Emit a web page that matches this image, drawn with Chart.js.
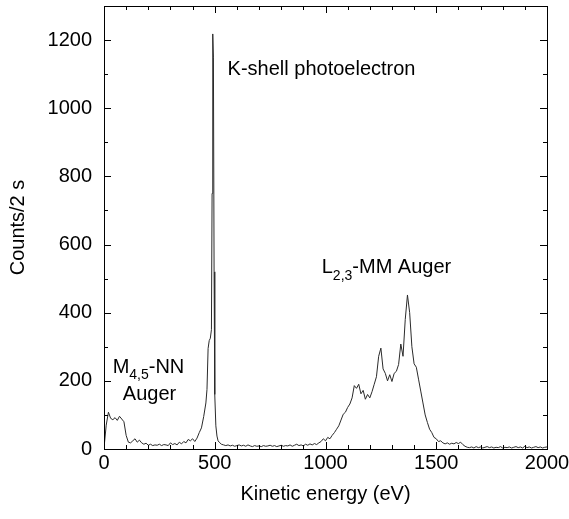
<!DOCTYPE html>
<html>
<head>
<meta charset="utf-8">
<script src="https://cdn.jsdelivr.net/npm/chart.js@4/dist/chart.umd.min.js"></script>
<style>
  html, body { margin: 0; padding: 0; background: #fff; }
  canvas { display: block; }
</style>
</head>
<body>
<canvas id="spec" width="569" height="519"></canvas>
<script>
// Kinetic energy (eV) and counts per 2 s
const ENERGY = [
  0, 10, 20, 30, 40, 50, 60, 70, 80, 90, 100, 110, 120, 130, 140, 150, 160, 170, 180, 190,
  200, 210, 220, 230, 240, 250, 260, 270, 280, 290, 300, 310, 320, 330, 340, 350, 360, 370, 380, 390,
  400, 410, 420, 430, 440, 450, 460, 465, 470, 475, 480, 485, 488, 491, 494, 497, 500, 505, 510, 515,
  520, 530, 540, 550, 560, 570, 580, 590, 600, 610, 620, 630, 640, 650, 660, 670, 680, 690, 700, 710,
  720, 730, 740, 750, 760, 770, 780, 790, 800, 810, 820, 830, 840, 850, 860, 870, 880, 890, 900, 910,
  920, 930, 940, 950, 960, 970, 980, 990, 1000, 1010, 1020, 1030, 1040, 1050, 1060, 1070, 1080, 1090, 1100, 1110,
  1120, 1130, 1140, 1150, 1160, 1170, 1180, 1190, 1200, 1210, 1220, 1230, 1240, 1250, 1260, 1270, 1280, 1290, 1300, 1310,
  1320, 1330, 1340, 1350, 1360, 1370, 1380, 1390, 1400, 1410, 1420, 1430, 1440, 1450, 1460, 1470, 1480, 1490, 1500, 1510,
  1520, 1530, 1540, 1550, 1560, 1570, 1580, 1590, 1600, 1610, 1620, 1630, 1640, 1650, 1660, 1670, 1680, 1690, 1700, 1710,
  1720, 1730, 1740, 1750, 1760, 1770, 1780, 1790, 1800, 1810, 1820, 1830, 1840, 1850, 1860, 1870, 1880, 1890, 1900, 1910,
  1920, 1930, 1940, 1950, 1960, 1970, 1980, 1990, 2000
];
const COUNTS = [
  3, 70, 108, 90, 86, 92, 84, 96, 88, 80, 40, 20, 18, 24, 30, 20, 26, 18, 14, 17,
  11, 14, 10, 12, 11, 14, 10, 13, 12, 10, 18, 13, 16, 12, 20, 15, 22, 18, 28, 24,
  30, 22, 32, 48, 62, 95, 135, 175, 295, 318, 325, 350, 750, 1218, 1150, 520, 160, 68, 38, 24,
  20, 14, 12, 10, 12, 9, 11, 8, 10, 12, 9, 11, 8, 12, 9, 7, 10, 8, 9, 7,
  10, 8, 9, 11, 8, 10, 7, 9, 11, 8, 10, 9, 12, 8, 11, 14, 10, 12, 9, 14,
  11, 15, 12, 16, 13, 18, 22, 30, 24, 34, 30, 40, 48, 58, 68, 85, 102, 108, 122, 132,
  150, 186, 178, 190, 162, 172, 146, 160, 150, 168, 190, 212, 272, 296, 235, 222, 200, 218, 198, 222,
  228, 248, 308, 272, 380, 452, 400, 300, 250, 240, 205, 170, 135, 100, 78, 58, 48, 34, 30, 22,
  24, 18, 15, 18, 14, 17, 15, 19, 16, 20, 13, 8, 5, 4, 6, 3, 7, 4, 6, 3,
  5, 7, 4, 6, 3, 5, 4, 7, 3, 5, 4, 6, 3, 5, 7, 4, 6, 3, 8, 4,
  6, 3, 5, 7, 4, 6, 3, 5, 6
];

const X_MAJOR = [0, 500, 1000, 1500, 2000];
const Y_MAJOR = [0, 200, 400, 600, 800, 1000, 1200];
const X_MINOR_STEP = 100;
const Y_MINOR_STEP = 100;

// peak labels, anchored in data units
const LABELS = [
  { x: 558, y: 1115, parts: [['K-shell photoelectron']] },
  { x: 983, y: 532, parts: [['L'], ['2,3', 'sub'], ['-MM Auger']] },
  { x: 39, y: 240, parts: [['M'], ['4,5', 'sub'], ['-NN']] },
  { x: 85, y: 161, parts: [['Auger']] }
];

const FONT = '"Liberation Sans", Arial, Helvetica, sans-serif';

const framePlugin = {
  id: 'frame',
  afterDatasetsDraw(chart) {
    const { ctx, chartArea: a, scales: { x, y } } = chart;
    ctx.save();
    ctx.strokeStyle = '#000';
    ctx.lineWidth = 1;
    ctx.strokeRect(Math.round(a.left) + 0.5, Math.round(a.top) + 0.5,
      Math.round(a.right - a.left), Math.round(a.bottom - a.top));

    ctx.beginPath();
    for (let v = x.min; v <= x.max; v += X_MINOR_STEP) {
      const px = Math.round(x.getPixelForValue(v)) + 0.5;
      const len = X_MAJOR.includes(v) ? 7 : 4;
      ctx.moveTo(px, a.bottom); ctx.lineTo(px, a.bottom - len);
      ctx.moveTo(px, a.top); ctx.lineTo(px, a.top + len);
    }
    for (let v = y.min; v <= y.max; v += Y_MINOR_STEP) {
      const py = Math.round(y.getPixelForValue(v)) + 0.5;
      const len = Y_MAJOR.includes(v) ? 7 : 4;
      ctx.moveTo(a.left, py); ctx.lineTo(a.left + len, py);
      ctx.moveTo(a.right, py); ctx.lineTo(a.right - len, py);
    }
    ctx.stroke();

    ctx.fillStyle = '#000';
    ctx.textBaseline = 'middle';
    ctx.textAlign = 'left';
    LABELS.forEach(l => {
      let px = x.getPixelForValue(l.x);
      const py = y.getPixelForValue(l.y);
      l.parts.forEach(([t, kind]) => {
        if (kind === 'sub') {
          ctx.font = '14px ' + FONT;
          ctx.fillText(t, px, py + 8);
        } else {
          ctx.font = '20px ' + FONT;
          ctx.fillText(t, px, py);
        }
        px += ctx.measureText(t).width;
      });
    });
    ctx.restore();
  }
};

const plain = v => String(v);

new Chart(document.getElementById('spec'), {
  type: 'line',
  data: {
    datasets: [{
      data: ENERGY.map((e, i) => ({ x: e, y: COUNTS[i] })),
      borderColor: '#2a2a2a',
      borderWidth: 1,
      pointRadius: 0,
      tension: 0,
      fill: false
    }]
  },
  options: {
    responsive: false,
    animation: false,
    layout: { padding: { top: 6, right: 22, left: 0, bottom: 0 } },
    plugins: { legend: { display: false }, tooltip: { enabled: false } },
    scales: {
      x: {
        type: 'linear', min: 0, max: 2000,
        afterFit: s => { s.height = 70; s.paddingLeft = 0; s.paddingRight = 0; },
        afterBuildTicks: s => { s.ticks = X_MAJOR.map(v => ({ value: v })); },
        grid: { display: false, drawTicks: false },
        border: { display: false },
        ticks: { color: '#000', font: { family: FONT, size: 20 }, padding: 2, maxRotation: 0, callback: plain },
        title: { display: true, text: 'Kinetic energy (eV)', color: '#000',
          font: { family: FONT, size: 20 }, padding: { top: 0, bottom: 13 } }
      },
      y: {
        min: 0, max: 1300,
        afterFit: s => { s.width = 104; s.paddingTop = 0; s.paddingBottom = 0; },
        afterBuildTicks: s => { s.ticks = Y_MAJOR.map(v => ({ value: v })); },
        grid: { display: false, drawTicks: false },
        border: { display: false },
        ticks: { color: '#000', font: { family: FONT, size: 20 }, padding: 12, callback: plain },
        title: { display: true, text: 'Counts/2 s', color: '#000',
          font: { family: FONT, size: 20 }, padding: { top: 6, bottom: 0 } }
      }
    }
  },
  plugins: [framePlugin]
});
</script>
</body>
</html>
